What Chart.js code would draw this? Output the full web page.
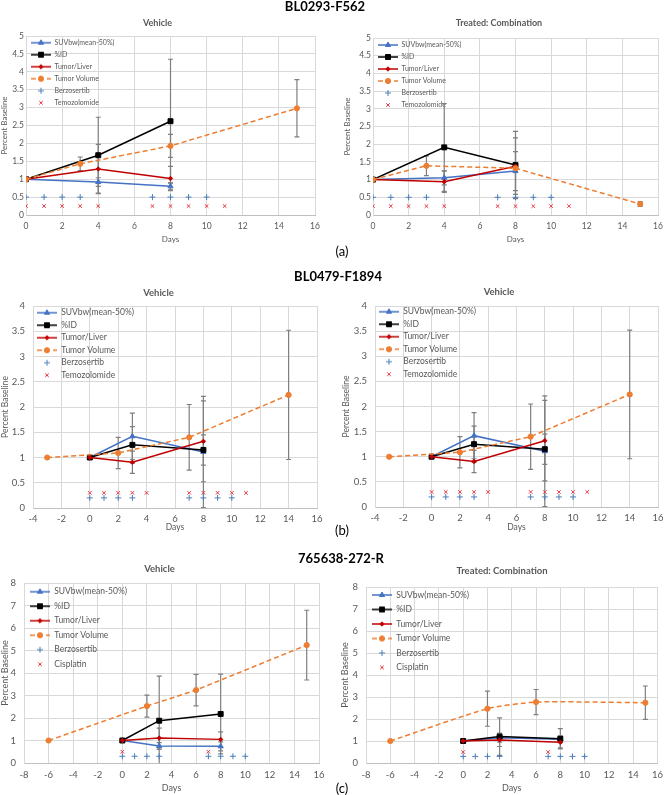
<!DOCTYPE html>
<html>
<head>
<meta charset="utf-8">
<script src="https://cdn.jsdelivr.net/npm/chart.js@4.4.1/dist/chart.umd.min.js"></script>
<style>
  body { margin: 0; background: #fff; width: 669px; height: 795px; position: relative; overflow: hidden; font-family: Lato, "Noto Sans", sans-serif; }
  .panel { position: absolute; }
  .head { position: absolute; font-weight: bold; font-size: 13px; color: #000; transform: translate(-50%, -50%); white-space: nowrap; z-index: 2; }
  .tag { position: absolute; font-size: 13px; color: #000; transform: translate(-50%, -50%); z-index: 2; }
</style>
</head>
<body>
<div class="head" style="left:325px;top:6px">BL0293-F562</div>
<div class="head" style="left:338px;top:276px">BL0479-F1894</div>
<div class="head" style="left:341px;top:558px">765638-272-R</div>
<div class="tag" style="left:342px;top:251px">(a)</div>
<div class="tag" style="left:342px;top:530px">(b)</div>
<div class="tag" style="left:342px;top:788px">(c)</div>

<div class="panel" id="aVeh"><canvas></canvas></div>
<div class="panel" id="aTrt"><canvas></canvas></div>
<div class="panel" id="bVeh1"><canvas></canvas></div>
<div class="panel" id="bVeh2"><canvas></canvas></div>
<div class="panel" id="cVeh"><canvas></canvas></div>
<div class="panel" id="cTrt"><canvas></canvas></div>

<script>
Chart.defaults.font.family = 'Lato, "Noto Sans", sans-serif';
Chart.defaults.color = '#595959';

/* ---------- (a) BL0293-F562 ---------- */
const aImgDays = [0, 4, 8];
const aVolDays = [0, 3, 8, 15];
const aVehSuv = [1.0, 0.92, 0.80];
const aVehSuvErr = [0, 0.12, 0.10];
const aVehPid = [1.0, 1.67, 2.62];
const aVehPidErr = [0, 1.06, 1.73];
const aVehTl = [1.0, 1.285, 1.02];
const aVehTlErr = [0, 0.69, 0.34];
const aVehVol = [1.0, 1.43, 1.93, 2.98];
const aVehVolErr = [0, 0.19, 0.32, 0.80];
const aTrtSuv = [1.0, 1.05, 1.24];
const aTrtSuvErr = [0, 0.20, 0.55];
const aTrtPid = [1.0, 1.91, 1.41];
const aTrtPidErr = [0, 1.24, 0.95];
const aTrtTl = [1.0, 0.94, 1.38];
const aTrtTlErr = [0, 0.30, 0.80];
const aTrtVol = [1.0, 1.39, 1.32, 0.31];
const aTrtVolErr = [0, 0.28, 0.10, 0.07];
const aBerzDays = [0, 1, 2, 3, 7, 8, 9, 10];
const aBerzLevel = 0.5;
const aTmzDays = [0, 1, 2, 3, 4, 7, 8, 9, 10, 11];
const aTmzLevel = 0.25;

/* ---------- (b) BL0479-F1894 ---------- */
const bImgDays = [0, 3, 8];
const bVolDays = [-3, 2, 7, 14];
const bSuv = [1.0, 1.42, 1.11];
const bSuvErr = [0, 0.46, 1.10];
const bPid = [1.0, 1.25, 1.15];
const bPidErr = [0, 0.36, 0.30];
const bTl = [1.0, 0.905, 1.32];
const bTlErr = [0, 0.22, 0.80];
const bVol = [1.0, 1.09, 1.40, 2.24];
const bVolErr = [0, 0.31, 0.65, 1.28];
const bBerzDays = [0, 1, 2, 3, 7, 8, 9, 10];
const bBerzLevel = 0.2;
const bTmzDays = [0, 1, 2, 3, 4, 7, 8, 9, 10, 11];
const bTmzLevel = 0.3;

/* ---------- (c) 765638-272-R ---------- */
const cImgDays = [0, 3, 8];
const cVolDays = [-6, 2, 6, 15];
const cVehSuv = [1.0, 0.76, 0.74];
const cVehSuvErr = [0, 0.15, 0.20];
const cVehPid = [1.0, 1.88, 2.18];
const cVehPidErr = [0, 1.98, 1.77];
const cVehTl = [1.0, 1.11, 1.05];
const cVehTlErr = [0, 0.44, 0.33];
const cVehVol = [1.0, 2.53, 3.24, 5.24];
const cVehVolErr = [0, 0.49, 0.70, 1.55];
const cTrtSuv = [1.0, 1.15, 1.08];
const cTrtSuvErr = [0, 0.20, 0.15];
const cTrtPid = [1.0, 1.20, 1.10];
const cTrtPidErr = [0, 0.85, 0.46];
const cTrtTl = [1.0, 1.05, 0.94];
const cTrtTlErr = [0, 0.30, 0.25];
const cTrtVol = [1.0, 2.47, 2.77, 2.74];
const cTrtVolErr = [0, 0.80, 0.57, 0.76];
const cBerzDays = [0, 1, 2, 3, 7, 8, 9, 10];
const cBerzLevel = 0.3;
const cCisDays = [0, 7];
const cCisLevel = 0.5;

const BLUE = '#4472c4', BLACK = '#000000', RED = '#c00000', ORANGE = '#ed7d31', BERZ = '#4a7ebb', DRUG = '#e8383d';

const pts = (xs, ys) => xs.map((x, i) => ({ x, y: ys[i] }));
const flat = (xs, level) => xs.map(x => ({ x, y: level }));

/* small line+marker swatch used as the legend point style */
function legendIcon(color, style, radius, withLine, dash) {
  const c = document.createElement('canvas');
  c.width = 20; c.height = 10;
  const g = c.getContext('2d');
  g.strokeStyle = color; g.fillStyle = color;
  if (withLine) {
    g.lineWidth = 1.5;
    g.setLineDash(dash || []);
    g.beginPath(); g.moveTo(0, 5); g.lineTo(20, 5); g.stroke();
    g.setLineDash([]);
  }
  g.lineWidth = 1;
  Chart.helpers.drawPoint(g, { pointStyle: style, radius, borderWidth: 1 }, 10, 5);
  return c;
}

function line(label, days, vals, errs, color, style, radius, dash, tension) {
  return {
    label, data: pts(days, vals), errors: errs, showLine: true,
    borderColor: color, backgroundColor: color, borderWidth: 1.5, borderDash: dash || [],
    pointStyle: style, pointRadius: radius, pointBorderWidth: 1, tension: tension || 0,
    icon: legendIcon(color, style, radius, true, dash)
  };
}

function marks(label, days, level, color, style, radius) {
  return {
    label, data: flat(days, level), showLine: false,
    borderColor: color, backgroundColor: color, pointStyle: style, pointRadius: radius, pointBorderWidth: 1,
    icon: legendIcon(color, style, radius, false)
  };
}

function seriesSet(imgDays, volDays, suv, suvE, pid, pidE, tl, tlE, vol, volE, volTension, berzDays, berzLvl, drugName, drugDays, drugLvl) {
  const ds = [
    line('SUVbw(mean-50%)', imgDays, suv, suvE, BLUE, 'triangle', 3),
    line('%ID', imgDays, pid, pidE, BLACK, 'rect', 3.5),
    line('Tumor/Liver', imgDays, tl, tlE, RED, 'rectRot', 2.2),
    line('Tumor Volume', volDays, vol, volE, ORANGE, 'circle', 2.6, [5, 3], volTension),
    marks('Berzosertib', berzDays, berzLvl, BERZ, 'cross', 3),
    marks(drugName, drugDays, drugLvl, DRUG, 'crossRot', 2.5)
  ];
  ds.forEach((d, i) => { d.order = 10 - i; });
  return ds;
}

/* error bars drawn through the chart's own scales */
const errorBars = {
  id: 'errorBars',
  beforeDatasetsDraw(chart) {
    const { ctx, chartArea: a, scales: { x, y } } = chart;
    ctx.save();
    ctx.beginPath(); ctx.rect(a.left, a.top, a.width, a.height); ctx.clip();
    ctx.strokeStyle = '#7f7f7f'; ctx.lineWidth = 1.2;
    chart.data.datasets.forEach(ds => {
      if (!ds.errors) return;
      ds.data.forEach((p, i) => {
        const e = ds.errors[i];
        if (!e) return;
        const px = x.getPixelForValue(p.x);
        const lo = y.getPixelForValue(p.y - e), hi = y.getPixelForValue(p.y + e);
        ctx.beginPath();
        ctx.moveTo(px, lo); ctx.lineTo(px, hi);
        ctx.moveTo(px - 2.5, lo); ctx.lineTo(px + 2.5, lo);
        ctx.moveTo(px - 2.5, hi); ctx.lineTo(px + 2.5, hi);
        ctx.stroke();
      });
    });
    ctx.restore();
  }
};

function panel(id, p) {
  const [bx, by, bw, bh] = p.box, [l, t, r, b] = p.area;
  const el = document.getElementById(id);
  el.style.left = bx + 'px'; el.style.top = by + 'px';
  const cv = el.querySelector('canvas');
  cv.width = bw; cv.height = bh;
  const tLH = p.titleSize * 1.2, aLH = p.axisSize * 1.2;
  const tTop = p.titleY - by - tLH / 2;
  // the legend sits inside the plot; an empty legend title pushes its first row down
  const legendShift = p.legendY - by - p.legendPad - p.legendSize / 2 - 1.2;
  const grid = { color: '#d9d9d9', drawTicks: false };
  const fmt = v => String(+v.toFixed(2));
  new Chart(cv, {
    type: 'scatter',
    data: { datasets: p.datasets },
    options: {
      responsive: false, animation: false, events: [],
      layout: { padding: { left: 0, top: 0, bottom: 0, right: bx + bw - r } },
      plugins: {
        title: {
          display: true, text: p.title, color: '#595959',
          font: { size: p.titleSize, weight: 'bold' },
          padding: { top: tTop, bottom: t - by - tTop - tLH }
        },
        legend: {
          position: 'chartArea', align: 'start',
          title: { display: true, text: '', font: { size: 1 }, padding: { top: legendShift, bottom: 0 } },
          labels: {
            usePointStyle: true, pointStyleWidth: 20, color: '#595959',
            font: { size: p.legendSize }, padding: p.legendPad,
            generateLabels: chart => chart.data.datasets.map((ds, i) => ({
              text: ds.label, pointStyle: ds.icon, fillStyle: ds.borderColor, strokeStyle: ds.borderColor,
              lineWidth: 0, hidden: false, datasetIndex: i, fontColor: '#595959'
            }))
          }
        },
        tooltip: { enabled: false }
      },
      scales: {
        x: {
          type: 'linear', min: p.xMin, max: 16,
          ticks: { stepSize: 2, padding: p.xTickPad, font: { size: p.tickSize }, callback: fmt },
          grid, border: { color: '#bfbfbf' },
          title: { display: true, text: 'Days', font: { size: p.axisSize },
            padding: { top: 0, bottom: Math.max(0, by + bh - p.xTitleY - aLH / 2) } },
          afterFit: s => { s.height = by + bh - b; }
        },
        y: {
          type: 'linear', min: 0, max: p.yMax,
          ticks: { stepSize: p.yStep, padding: p.yTickPad, font: { size: p.tickSize }, callback: fmt },
          grid, border: { color: '#d9d9d9' },
          title: { display: true, text: 'Percent Baseline', font: { size: p.axisSize },
            padding: { top: Math.max(0, p.yTitleX - bx - aLH / 2), bottom: 0 } },
          afterFit: s => { s.width = l - bx; }
        }
      }
    },
    plugins: [errorBars]
  });
}

const aStyle = { titleSize: 9, axisSize: 8, tickSize: 8.5, legendSize: 7, legendPad: 5, xTickPad: 6, yTickPad: 2, xMin: 0, yMax: 5, yStep: 0.5 };
const bStyle = { titleSize: 9.5, axisSize: 8.5, tickSize: 9.5, legendSize: 8.5, legendPad: 4, xTickPad: 5, yTickPad: 8, xMin: -4, yMax: 4, yStep: 0.5 };
const cStyle = { titleSize: 9.5, axisSize: 9, tickSize: 9.5, legendSize: 8.5, legendPad: 6, xTickPad: 6, yTickPad: 8, xMin: -8, yMax: 8, yStep: 1 };

panel('aVeh', { ...aStyle, title: 'Vehicle', box: [0, 12, 335, 240], area: [26, 36, 315, 215], titleY: 23, yTitleX: 4.5, xTitleY: 239, legendY: 42.7,
  datasets: seriesSet(aImgDays, aVolDays, aVehSuv, aVehSuvErr, aVehPid, aVehPidErr, aVehTl, aVehTlErr, aVehVol, aVehVolErr, 0,
    aBerzDays, aBerzLevel, 'Temozolomide', aTmzDays, aTmzLevel) });
panel('aTrt', { ...aStyle, title: 'Treated: Combination', box: [340, 12, 329, 240], area: [373, 38, 658, 215], titleY: 23, yTitleX: 347, xTitleY: 239, legendY: 45,
  datasets: seriesSet(aImgDays, aVolDays, aTrtSuv, aTrtSuvErr, aTrtPid, aTrtPidErr, aTrtTl, aTrtTlErr, aTrtVol, aTrtVolErr, 0,
    aBerzDays, aBerzLevel, 'Temozolomide', aTmzDays, aTmzLevel) });
panel('bVeh1', { ...bStyle, title: 'Vehicle', box: [0, 282, 335, 250], area: [33, 306, 317, 508], titleY: 293, yTitleX: 5, xTitleY: 528, legendY: 312.7,
  datasets: seriesSet(bImgDays, bVolDays, bSuv, bSuvErr, bPid, bPidErr, bTl, bTlErr, bVol, bVolErr, 0,
    bBerzDays, bBerzLevel, 'Temozolomide', bTmzDays, bTmzLevel) });
panel('bVeh2', { ...bStyle, title: 'Vehicle', box: [340, 282, 329, 250], area: [375, 306, 658, 507], titleY: 292, yTitleX: 346, xTitleY: 528, legendY: 311.7,
  datasets: seriesSet(bImgDays, bVolDays, bSuv, bSuvErr, bPid, bPidErr, bTl, bTlErr, bVol, bVolErr, 0,
    bBerzDays, bBerzLevel, 'Temozolomide', bTmzDays, bTmzLevel) });
panel('cVeh', { ...cStyle, title: 'Vehicle', box: [0, 556, 335, 239], area: [24, 583, 319, 763], titleY: 569, yTitleX: 4.5, xTitleY: 788, legendY: 591.7,
  datasets: seriesSet(cImgDays, cVolDays, cVehSuv, cVehSuvErr, cVehPid, cVehPidErr, cVehTl, cVehTlErr, cVehVol, cVehVolErr, 0,
    cBerzDays, cBerzLevel, 'Cisplatin', cCisDays, cCisLevel) });
panel('cTrt', { ...cStyle, title: 'Treated: Combination', box: [340, 556, 329, 239], area: [366, 587, 664, 763], titleY: 571, yTitleX: 345, xTitleY: 788, legendY: 595,
  datasets: seriesSet(cImgDays, cVolDays, cTrtSuv, cTrtSuvErr, cTrtPid, cTrtPidErr, cTrtTl, cTrtTlErr, cTrtVol, cTrtVolErr, 0.2,
    cBerzDays, cBerzLevel, 'Cisplatin', cCisDays, cCisLevel) });
</script>
</body>
</html>
